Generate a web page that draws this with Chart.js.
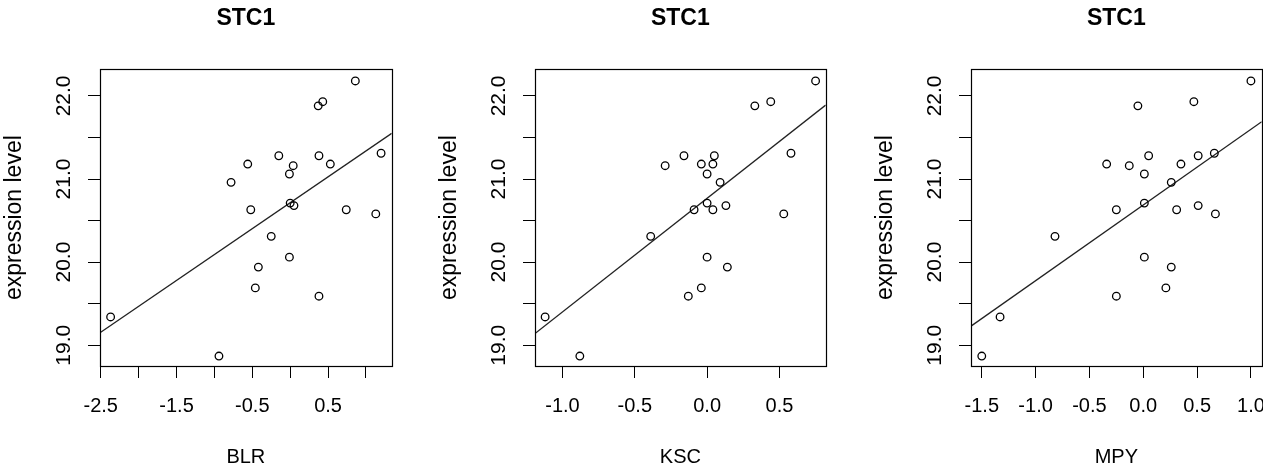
<!DOCTYPE html>
<html>
<head>
<meta charset="utf-8">
<script src="https://cdn.jsdelivr.net/npm/chart.js@4.4.1/dist/chart.umd.min.js"></script>
<style>
  html, body { margin: 0; padding: 0; background: #fff; overflow: hidden; }
  body { width: 1263px; height: 470px; position: relative; }
  canvas { position: absolute; top: 0; }
</style>
</head>
<body>
<canvas id="blr" width="400" height="470" style="left:0px"></canvas>
<canvas id="ksc" width="400" height="470" style="left:435px"></canvas>
<canvas id="mpy" width="420" height="470" style="left:871px"></canvas>
<script>
// Values
const blrX = [-2.37, -0.94, -0.78, -0.56, -0.52, -0.46, -0.42, -0.25, -0.15, -0.01, 0.04, -0.01, 0.00, 0.05, 0.38, 0.38, 0.37, 0.43, 0.53, 0.74, 0.86, 1.13, 1.20];
const blrY = [19.34, 18.87, 20.96, 21.18, 20.63, 19.69, 19.94, 20.31, 21.28, 21.06, 21.16, 20.06, 20.71, 20.68, 19.59, 21.28, 21.88, 21.93, 21.18, 20.63, 22.18, 20.58, 21.31];

const kscX = [-1.12, -0.88, -0.39, -0.29, -0.16, -0.09, -0.13, -0.04, -0.04, 0.00, 0.00, 0.00, 0.04, 0.05, 0.04, 0.09, 0.13, 0.14, 0.33, 0.44, 0.53, 0.58, 0.75];
const kscY = [19.34, 18.87, 20.31, 21.16, 21.28, 20.63, 19.59, 19.69, 21.18, 21.06, 20.71, 20.06, 21.18, 21.28, 20.63, 20.96, 20.68, 19.94, 21.88, 21.93, 20.58, 21.31, 22.18];

const mpyX = [-1.50, -1.33, -0.82, -0.34, -0.25, -0.25, -0.13, -0.05, 0.01, 0.01, 0.01, 0.05, 0.26, 0.26, 0.31, 0.21, 0.35, 0.47, 0.51, 0.51, 0.66, 0.67, 1.00];
const mpyY = [18.87, 19.34, 20.31, 21.18, 20.63, 19.59, 21.16, 21.88, 21.06, 20.71, 20.06, 21.28, 20.96, 19.94, 20.63, 19.69, 21.18, 21.93, 21.28, 20.68, 21.31, 20.58, 22.18];

// Fitted lines (end points at the axis limits)
const blrFitX = [-2.51, 1.34];
const blrFitY = [19.15, 21.55];
const kscFitX = [-1.19, 0.82];
const kscFitY = [19.14, 21.89];
const mpyFitX = [-1.60, 1.10];
const mpyFitY = [19.23, 21.69];

// Axis limits
const blrRange = [-2.51, 1.34];
const kscRange = [-1.19, 0.82];
const mpyRange = [-1.60, 1.10];
const yRange = [18.75, 22.32];

// Tick labels that are printed (other ticks stay unlabelled)
const blrTicks = ['-2.5', '-1.5', '-0.5', '0.5'];
const kscTicks = ['-1.0', '-0.5', '0.0', '0.5'];
const mpyTicks = ['-1.5', '-1.0', '-0.5', '0.0', '0.5', '1.0'];
const yTicks = ['19.0', '20.0', '21.0', '22.0'];

Chart.defaults.font.family = "'Liberation Sans', Arial, sans-serif";
Chart.defaults.color = '#000';

// Draw the full box around the plot region
const framePlugin = {
    id: 'frame',
    afterDraw(chart) {
        const a = chart.chartArea;
        const ctx = chart.ctx;
        ctx.save();
        ctx.strokeStyle = '#000';
        ctx.lineWidth = 1.2;
        ctx.strokeRect(Math.round(a.left) + 0.5, Math.round(a.top) + 0.5,
            Math.round(a.right - a.left), Math.round(a.bottom - a.top));
        ctx.restore();
    }
};

function pickLabel(list) {
    return function (value) {
        const s = Number(value).toFixed(1);
        return list.includes(s) ? s : '';
    };
}

function makeChart(id, xTitle, xs, ys, fitX, fitY, xRange, xLabels, padRight) {
    const points = xs.map((x, i) => ({ x: x, y: ys[i] }));
    const fit = fitX.map((x, i) => ({ x: x, y: fitY[i] }));
    const ctx = document.getElementById(id).getContext('2d');

    return new Chart(ctx, {
        type: 'scatter',
        data: {
            datasets: [
                {
                    data: points,
                    pointStyle: 'circle',
                    pointRadius: 3.8,
                    pointBorderWidth: 1.3,
                    pointBorderColor: '#000',
                    pointBackgroundColor: 'rgba(0,0,0,0)'
                },
                {
                    data: fit,
                    showLine: true,
                    borderColor: '#222',
                    borderWidth: 1.3,
                    pointRadius: 0
                }
            ]
        },
        options: {
            responsive: false,
            animation: false,
            layout: { padding: { left: 0, top: 0, right: padRight, bottom: 0 } },
            plugins: {
                legend: { display: false },
                tooltip: { enabled: false },
                title: {
                    display: true,
                    text: 'STC1',
                    fullSize: false,
                    color: '#000',
                    font: { size: 23, weight: 'bold', lineHeight: 1.2 },
                    padding: { top: 5, bottom: 36.7 }
                }
            },
            scales: {
                x: {
                    type: 'linear',
                    position: 'bottom',
                    min: xRange[0],
                    max: xRange[1],
                    afterFit: s => { s.height = 104; },
                    grid: { drawOnChartArea: false, drawTicks: true, tickLength: 12, color: '#000', lineWidth: 1 },
                    border: { display: true, color: '#000', width: 1 },
                    ticks: {
                        stepSize: 0.5,
                        includeBounds: false,
                        autoSkip: false,
                        minRotation: 0,
                        maxRotation: 0,
                        padding: 16.5,
                        font: { size: 20 },
                        callback: pickLabel(xLabels)
                    },
                    title: { display: true, text: xTitle, font: { size: 20 }, padding: { top: 0, bottom: 1 } }
                },
                y: {
                    type: 'linear',
                    position: 'left',
                    min: yRange[0],
                    max: yRange[1],
                    afterFit: s => { s.width = 100; },
                    grid: { drawOnChartArea: false, drawTicks: true, tickLength: 12, color: '#000', lineWidth: 1 },
                    border: { display: true, color: '#000', width: 1 },
                    ticks: {
                        stepSize: 0.5,
                        includeBounds: false,
                        autoSkip: false,
                        minRotation: 90,
                        maxRotation: 90,
                        crossAlign: 'center',
                        padding: 3,
                        font: { size: 21 },
                        callback: pickLabel(yTicks)
                    },
                    title: { display: true, text: 'expression level', font: { size: 23 }, padding: { top: 1, bottom: 0 } }
                }
            }
        },
        plugins: [framePlugin]
    });
}

document.addEventListener('DOMContentLoaded', function () {
    makeChart('blr', 'BLR', blrX, blrY, blrFitX, blrFitY, blrRange, blrTicks, 8.3);
    makeChart('ksc', 'KSC', kscX, kscY, kscFitX, kscFitY, kscRange, kscTicks, 9.3);
    makeChart('mpy', 'MPY', mpyX, mpyY, mpyFitX, mpyFitY, mpyRange, mpyTicks, 29.3);
});
</script>
</body>
</html>
